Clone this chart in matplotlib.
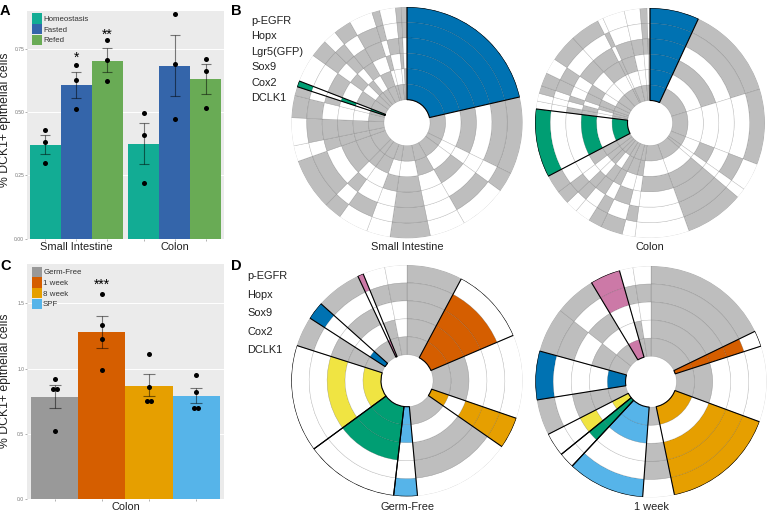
"""
plot.py

DCK1+ bar charts (A, C) and the marker co-expression pies (B, D).
Pie sectors are a share of cells plus a string with one letter per ring,
outermost ring first: 0 = negative, 1 = positive (gray), a letter = highlighted
population in that colour.
"""

import numpy as np
import matplotlib
matplotlib.use("Agg")
import matplotlib.pyplot as plt
from matplotlib.patches import Patch

W, H = 767, 511

# Panel A
a_groups = ["Small Intestine", "Colon"]
a_series = ["Homeostasis", "Fasted", "Refed"]
a_means = [[0.37, 0.605, 0.703], [0.375, 0.683, 0.63]]
a_err_lo = [[0.333, 0.557, 0.657], [0.293, 0.562, 0.572]]
a_err_hi = [[0.409, 0.657, 0.751], [0.457, 0.804, 0.688]]
a_dots = [
    [[0.43, 0.383, 0.297], [0.684, 0.625, 0.512], [0.783, 0.707, 0.621]],
    [[0.497, 0.408, 0.218], [0.888, 0.689, 0.471], [0.709, 0.664, 0.518]],
]
a_colors = ["#12AC94", "#3465AA", "#69AB55"]
a_stars = {(0, 1): ("*", 0.715), (0, 2): ("**", 0.806)}

# Panel C
c_series = ["Germ-Free", "1 week", "8 week", "SPF"]
c_means = [0.782, 1.28, 0.869, 0.79]
c_err_lo = [0.695, 1.16, 0.787, 0.733]
c_err_hi = [0.871, 1.40, 0.956, 0.854]
c_dots = [
    [0.923, 0.843, 0.843, 0.521],
    [1.574, 1.331, 1.229, 0.989],
    [1.109, 0.856, 0.754, 0.754],
    [0.948, 0.82, 0.698, 0.698],
]
c_jitter = [
    [0, -0.012, 0.012, 0],
    [0, 0, 0, 0],
    [0, 0, -0.012, 0.012],
    [0, 0, -0.012, 0.012],
]
c_colors = ["#999999", "#D55E00", "#E69F00", "#56B4E9"]

# Panel B, small intestine
si_share = [21.4, 10.8, 2.8, 6.7, 5.0, 5.6, 3.3, 4.2, 2.5, 7.2, 2.2, 3.9,
            3.1, 1.25, 0.83, 4.0, 2.5, 1.9, 2.5, 3.3, 1.1, 2.2, 0.8, 0.8]
si_rings = ["bbbbbb", "110101", "100001", "010101", "000011", "111101",
            "000101", "010011", "101011", "110111", "001111", "011111",
            "110001", "101001", "g00g0g", "001011", "110101", "011011",
            "101101", "011011", "110101", "001001", "111101", "110011"]

# Panel B, colon
co_share = [6.9, 13.3, 10.6, 3.9, 1.4, 8.3, 7.6, 1.8, 3.1, 1.9, 2.2, 1.7, 1.9,
            2.6, 9.6, 1.1, 1.1, 1.1, 1.9, 2.2, 3.9, 4.2, 0.8, 3.1, 2.2, 1.0, 0.4]
co_rings = ["bbbbbb", "110101", "100001", "010101", "000001", "111101",
            "000101", "010011", "101011", "110111", "001101", "011011",
            "110011", "100111", "g00g0g", "001101", "000101", "101011",
            "110111", "010101", "101001", "101101", "010101", "001101",
            "001001", "111001", "001001"]

# Panel D, germ-free
gf_share = [7.8, 10.8, 11.7, 4.4, 13.9, 3.3, 13.1, 15.0, 4.2, 2.5, 6.4, 0.8, 3.1, 3.1]
gf_rings = ["11111", "0vvvv", "00011", "ooo0o", "01101", "s00ss", "00ggg",
            "00y0y", "10111", "b000b", "10101", "p000p", "01011", "01001"]

# Panel D, 1 week
wk_share = [17.8, 2.2, 10.6, 16.1, 4.4, 10.8, 2.2, 3.3, 5.0, 6.8, 6.3, 5.8, 4.2, 1.9, 2.5]
wk_rings = ["11111", "0vvvv", "00011", "ooo0o", "01101", "s00ss", "00ggg",
            "00y0y", "10111", "b000b", "11011", "10101", "pp00p", "01011", "01001"]

b_markers = ["p-EGFR", "Hopx", "Lgr5(GFP)", "Sox9", "Cox2", "DCLK1"]
d_markers = ["p-EGFR", "Hopx", "Sox9", "Cox2", "DCLK1"]

pop_colors = {
    "1": "#BEBEBE", "0": "white", "b": "#0072B2", "g": "#009E73", "o": "#E69F00",
    "y": "#F0E442", "p": "#CC79A7", "s": "#56B4E9", "v": "#D55E00",
}

plt.rcParams["font.family"] = ["Liberation Sans", "DejaVu Sans"]


def px_rect(left, top, right, bottom):
    return [left / W, 1 - bottom / H, (right - left) / W, (bottom - top) / H]


def style_bar_axes(ax):
    ax.set_facecolor("#EBEBEB")
    for s in ax.spines.values():
        s.set_visible(False)
    ax.set_axisbelow(True)
    ax.grid(axis="y", color="white", lw=0.7)
    ax.tick_params(axis="y", labelsize=3.6, labelcolor="#777777", length=1.2,
                   width=0.4, color="#777777", pad=0.8)
    ax.tick_params(axis="x", length=1.2, width=0.4, color="#777777")


def bar_legend(ax, labels, colors):
    handles = [Patch(facecolor=c, label=l) for c, l in zip(colors, labels)]
    ax.legend(handles=handles, loc="upper left", bbox_to_anchor=(0.025, 0.99),
              frameon=False, fontsize=5.7, handlelength=1.27, handleheight=1.62,
              labelspacing=0.05, handletextpad=0.15, borderpad=0, borderaxespad=0,
              labelcolor="#333333")


def draw_pie(rect, share, rings, hole, label, label_y):
    ax = fig.add_axes(px_rect(*rect), projection="polar")
    ax.set_theta_zero_location("N")
    ax.set_theta_direction(-1)
    n_rings = len(rings[0])
    ax.set_ylim(0, hole + n_rings)
    ax.patch.set_alpha(0)
    ax.axis("off")

    edges = np.concatenate([[0], np.cumsum(share)]) / np.sum(share) * 2 * np.pi
    for i, code in enumerate(rings):
        for j, letter in enumerate(code):
            ax.bar(edges[i], 1, edges[i + 1] - edges[i], bottom=hole + n_rings - 1 - j,
                   align="edge", color=pop_colors[letter],
                   edgecolor=(0, 0, 0, 0.18), lw=0.4, zorder=2)
    # outline the highlighted populations last so no neighbour covers them
    for i, code in enumerate(rings):
        if code.strip("01"):
            ax.bar(edges[i], n_rings, edges[i + 1] - edges[i], bottom=hole,
                   align="edge", fill=False, edgecolor="black", lw=0.8, zorder=3)
    fig.text((rect[0] + rect[2]) / 2 / W, 1 - label_y / H, label, fontsize=7.9,
             ha="center", va="center", color="#222222")


fig = plt.figure(figsize=(W / 100, H / 100), dpi=100)

# A
ax = fig.add_axes(px_rect(27, 11, 224, 238.7))
style_bar_axes(ax)
width = 0.314
for g in range(len(a_groups)):
    for s in range(len(a_series)):
        x = g + 1 + (s - 1) * width
        ax.bar(x, a_means[g][s], width, color=a_colors[s], zorder=2)
        ax.errorbar(x, a_means[g][s],
                    yerr=[[a_means[g][s] - a_err_lo[g][s]], [a_err_hi[g][s] - a_means[g][s]]],
                    color=(0, 0, 0, 0.5), lw=0.8, capsize=3.4, capthick=0.8, zorder=3)
        ax.scatter([x] * len(a_dots[g][s]), a_dots[g][s], s=13, color="black",
                   lw=0, zorder=4)
        if (g, s) in a_stars:
            star, y = a_stars[(g, s)]
            ax.text(x, y, star, fontsize=10, ha="center", va="center", zorder=4)
ax.set_xlim(0.5, 2.5)
ax.set_ylim(0, 0.899)
ax.set_xticks([1 + i * width for i in (-1, 0, 1)] + [2 + i * width for i in (-1, 0, 1)],
              labels=["", "", "", "", "", ""])
ax.set_yticks([0, 0.25, 0.5, 0.75], labels=["0.00", "0.25", "0.50", "0.75"])
ax.text(1, -0.036, a_groups[0], fontsize=7.9, ha="center", va="center",
        color="#222222", transform=ax.get_xaxis_transform())
ax.text(2, -0.036, a_groups[1], fontsize=7.9, ha="center", va="center",
        color="#222222", transform=ax.get_xaxis_transform())
bar_legend(ax, a_series, a_colors)

# C
ax = fig.add_axes(px_rect(27, 264.3, 224, 499))
style_bar_axes(ax)
width = 0.239
for s in range(len(c_series)):
    x = 1 + (s - 1.5) * width
    ax.bar(x, c_means[s], width, color=c_colors[s], zorder=2)
    ax.errorbar(x, c_means[s], yerr=[[c_means[s] - c_err_lo[s]], [c_err_hi[s] - c_means[s]]],
                color=(0, 0, 0, 0.5), lw=0.8, capsize=4, capthick=0.8, zorder=3)
    ax.scatter(x + np.array(c_jitter[s]), c_dots[s], s=13, color="black", lw=0, zorder=4)
ax.text(1 - 0.5 * width, 1.645, "***", fontsize=10, ha="center", va="center", zorder=4)
ax.set_xlim(0.5, 1.5)
ax.set_ylim(0, 1.8)
ax.set_xticks([1 + (s - 1.5) * width for s in range(4)], labels=["", "", "", ""])
ax.set_yticks([0, 0.5, 1.0, 1.5], labels=["0.0", "0.5", "1.0", "1.5"])
ax.text(1, -0.033, "Colon", fontsize=7.9, ha="center", va="center", color="#222222",
        transform=ax.get_xaxis_transform())
bar_legend(ax, c_series, c_colors)

fig.text(5 / W, 1 - 120 / H, "% DCK1+ epithelial cells", rotation=90, fontsize=8.8,
         ha="center", va="center", color="#222222")
fig.text(5 / W, 1 - 380.5 / H, "% DCK1+ epithelial cells", rotation=90, fontsize=8.8,
         ha="center", va="center", color="#222222")

# B, D
draw_pie((407 - 115.7, 122.7 - 115.7, 407 + 115.7, 122.7 + 115.7),
         si_share, si_rings, 1.49, "Small Intestine", 247.5)
draw_pie((650 - 115, 123 - 115, 650 + 115, 123 + 115),
         co_share, co_rings, 1.46, "Colon", 247)
draw_pie((407 - 115.7, 380.7 - 115.7, 407 + 115.7, 380.7 + 115.7),
         gf_share, gf_rings, 1.45, "Germ-Free", 506.5)
draw_pie((651 - 115.7, 381.7 - 115.7, 651 + 115.7, 381.7 + 115.7),
         wk_share, wk_rings, 1.41, "1 week", 506.5)

for i, m in enumerate(b_markers):
    fig.text(251.5 / W, 1 - (20.5 + i * 15.55) / H, m, fontsize=7.9, ha="left",
             va="center", color="#222222")
for i, m in enumerate(d_markers):
    fig.text(247.5 / W, 1 - (276 + i * 18.55) / H, m, fontsize=7.9, ha="left",
             va="center", color="#222222")

for letter, x, y in [("A", 0, 11), ("B", 231.5, 11), ("C", 0, 266), ("D", 231.5, 266)]:
    fig.text(x / W, 1 - y / H, letter, fontsize=10.5, fontweight="bold", ha="left", va="center")

fig.savefig("out.png", dpi=100)
